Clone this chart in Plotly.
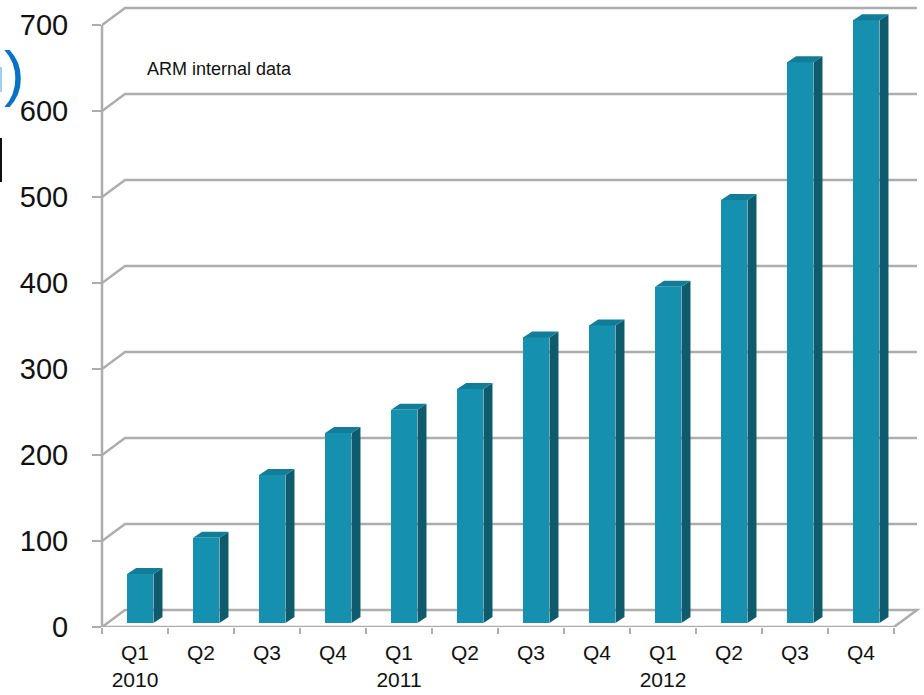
import plotly.graph_objects as go

# ---------------- data ----------------
quarters = ["Q1", "Q2", "Q3", "Q4", "Q1", "Q2", "Q3", "Q4", "Q1", "Q2", "Q3", "Q4"]
years = ["2010", "", "", "", "2011", "", "", "", "2012", "", "", ""]
values = [57, 99, 172, 221, 248, 272, 332, 346, 391, 492, 652, 701]
y_ticks = [0, 100, 200, 300, 400, 500, 600, 700]
note_text = "ARM internal data"

# ---------------- geometry / style ----------------
W, H = 924, 695
ML, MB = 102, 68
CAT_PX = 66.0
PX_PER_UNIT = 0.86
plot_w = W - ML
plot_h = H - MB
x_min = -0.5
x_max = x_min + plot_w / CAT_PX
y_max = plot_h / PX_PER_UNIT

# wall / floor depth (data units)
DXW = 23 / CAT_PX
DYW = 17 / PX_PER_UNIT
# bar depth
DXB = 9 / CAT_PX
DYB = 6 / PX_PER_UNIT
BASE = 4 / PX_PER_UNIT
BAR_W = 0.40
BAR_OFF = -0.12

FRONT = "#1590AE"
SIDE = "#0E5B6E"
TOP = "#127D99"
GRID = "#ADADAD"

idx = list(range(len(values)))
n = len(values)
right_end = (n - 0.5) + DXW

fig = go.Figure()

# front faces
fig.add_trace(go.Bar(
    x=idx, y=values, base=[BASE] * n, width=BAR_W, offset=BAR_OFF,
    marker=dict(color=FRONT, line=dict(width=0)), hoverinfo="skip",
))

# side and top faces
sx, sy = [], []
tx, ty = [], []
for i, v in zip(idx, values):
    xl = i + BAR_OFF
    xr = xl + BAR_W
    top = BASE + v
    sx += [xr, xr + DXB, xr + DXB, xr, xr, None]
    sy += [BASE, BASE + DYB, top + DYB, top, BASE, None]
    tx += [xl, xr, xr + DXB, xl + DXB, xl, None]
    ty += [top, top, top + DYB, top + DYB, top, None]
fig.add_trace(go.Scatter(x=sx, y=sy, mode="lines", fill="toself", fillcolor=SIDE,
                         line=dict(width=0, color=SIDE), hoverinfo="skip"))
fig.add_trace(go.Scatter(x=tx, y=ty, mode="lines", fill="toself", fillcolor=TOP,
                         line=dict(width=0, color=TOP), hoverinfo="skip"))

shapes = []
# back-wall gridlines with left-wall diagonals
for t in y_ticks[1:]:
    shapes.append(dict(
        type="path", xref="x", yref="y", layer="below",
        path=f"M {x_min},{t} L {x_min + DXW},{t + DYW} L {right_end},{t + DYW}",
        line=dict(color=GRID, width=2.5),
    ))
# floor outline
shapes.append(dict(
    type="path", xref="x", yref="y", layer="below",
    path=(f"M {x_min},0 L {n - 0.5},0 L {right_end},{DYW} "
          f"L {x_min + DXW},{DYW} Z"),
    line=dict(color=GRID, width=2.5),
))
# front vertical axis line
shapes.append(dict(
    type="line", xref="paper", yref="y", layer="below",
    x0=0, x1=0, y0=0, y1=y_ticks[-1],
    line=dict(color=GRID, width=2.5),
))

# cropped slide fragments at the left edge
def px_x(px):
    return (px - ML) / plot_w

def px_y(py):
    return 1 - py / plot_h

shapes.append(dict(type="rect", xref="paper", yref="paper",
                   x0=px_x(0), x1=px_x(2), y0=px_y(182), y1=px_y(138),
                   fillcolor="#111111", line=dict(width=0)))
shapes.append(dict(type="rect", xref="paper", yref="paper",
                   x0=px_x(0), x1=px_x(2), y0=px_y(92), y1=px_y(67),
                   fillcolor="#9FD0EE", line=dict(width=0)))

annotations = [
    dict(text=note_text, xref="paper", yref="paper", x=px_x(145), y=px_y(69),
         xanchor="left", yanchor="middle", showarrow=False,
         font=dict(family="Liberation Sans, Arial", size=18, color="#111111")),
    dict(text=")", xref="paper", yref="paper", x=px_x(14), y=px_y(72),
         xanchor="center", yanchor="middle", showarrow=False,
         font=dict(family="Liberation Sans, Arial", size=62, color="#0A72C4")),
]

ticktext = [f"{q}<br>{y}" if y else q for q, y in zip(quarters, years)]

fig.update_layout(
    width=W, height=H,
    margin=dict(l=ML, r=0, t=0, b=MB, pad=0),
    paper_bgcolor="white", plot_bgcolor="white",
    showlegend=False, hovermode=False,
    shapes=shapes, annotations=annotations,
    font=dict(family="Liberation Sans, Arial", color="#111111"),
    xaxis=dict(
        range=[x_min, x_max], showgrid=False, zeroline=False, showline=False,
        tickmode="array", tickvals=idx, ticktext=ticktext, ticks="",
        tickfont=dict(size=21, color="#111111"), automargin=False,
        ticklabelstandoff=11,
        minor=dict(tickmode="array", tickvals=[i - 0.5 for i in range(n + 1)],
                   ticks="outside", ticklen=6, tickwidth=2, tickcolor=GRID),
    ),
    yaxis=dict(
        range=[0, y_max], showgrid=False, zeroline=False, showline=False,
        tickmode="array", tickvals=y_ticks, ticks="outside", ticklen=9,
        tickwidth=2, tickcolor=GRID, tickfont=dict(size=29, color="#111111"),
        automargin=False, ticklabelstandoff=18,
    ),
    bargap=0,
)

fig.write_html("out.html")
